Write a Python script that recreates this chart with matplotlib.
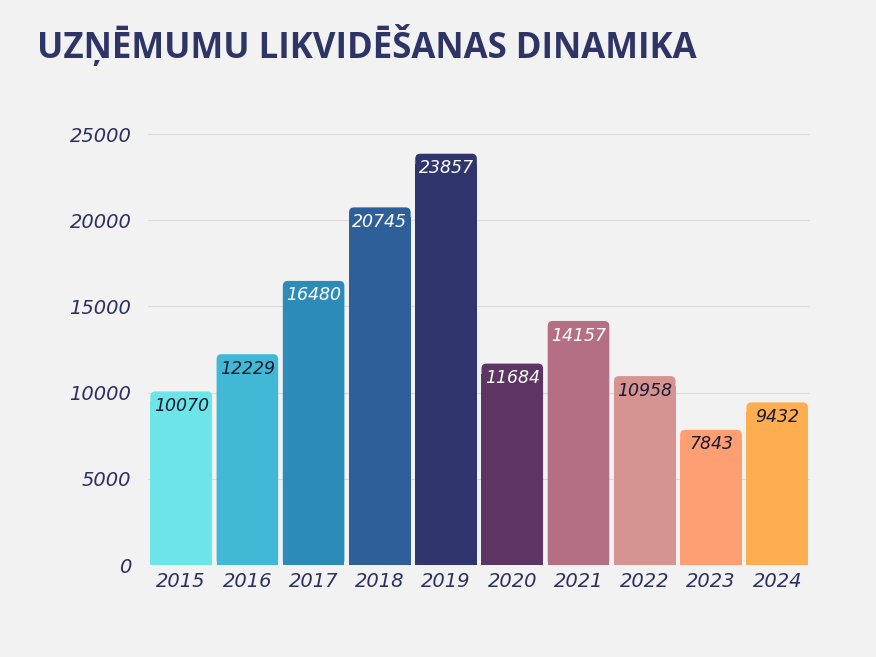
import matplotlib.pyplot as plt
from matplotlib.patches import FancyBboxPatch, Rectangle

years = ['2015', '2016', '2017', '2018', '2019', '2020', '2021', '2022', '2023', '2024']
values = [10070, 12229, 16480, 20745, 23857, 11684, 14157, 10958, 7843, 9432]
colors = ['#6ce5e8', '#41b8d5', '#2d8bba', '#2f5f98', '#31356e',
          '#5c3563', '#b56f84', '#d59391', '#fd9e73', '#feae51']
label_colors = ['#1a1a2e', '#1a1a2e', 'white', 'white', 'white',
                'white', 'white', '#1a1a2e', '#1a1a2e', '#1a1a2e']

bg = '#f2f2f2'
text_col = '#2e3160'

fig = plt.figure(figsize=(8.76, 6.57), dpi=100, facecolor=bg)
ax = fig.add_axes([0.169, 0.140, 0.756, 0.677], facecolor=bg)

ymax = 25800
x = range(len(years))
bars = ax.bar(x, values, width=0.93, color=colors, zorder=3)

# rounded top corners: swap each bar for a rounded box + square bottom
px_x = 10 / (0.756 * 876)          # x data units per pixel
px_y = ymax / (0.677 * 657)        # y data units per pixel
r = 5 * px_x
for b, c in zip(bars, colors):
    b.set_visible(False)
    x0, w, h = b.get_x(), b.get_width(), b.get_height()
    ax.add_patch(FancyBboxPatch((x0, 0), w, h, boxstyle=f'round,pad=0,rounding_size={r}',
                                mutation_aspect=px_y / px_x, fc=c, ec='none', zorder=3))
    ax.add_patch(Rectangle((x0, 0), w, h - 10 * px_y, fc=c, ec='none', zorder=3))

for b, v, c in zip(bars, values, label_colors):
    ax.annotate(str(v), (b.get_x() + b.get_width() / 2, v), xytext=(0, -4),
                textcoords='offset points', ha='center', va='top',
                fontsize=12.5, style='italic', color=c, family='DejaVu Sans', zorder=4)

ax.set_xlim(-0.5, len(years) - 0.5)
ax.set_ylim(0, ymax)
ax.set_yticks([0, 5000, 10000, 15000, 20000, 25000])
ax.set_xticks(list(x))
ax.set_xticklabels(years)
ax.grid(axis='y', color='#dcdcdc', linewidth=0.8, zorder=0)
for s in ax.spines.values():
    s.set_visible(False)
ax.tick_params(length=0, labelsize=14, labelcolor=text_col, pad=5)
ax.tick_params(axis='y', pad=12)
for lab in ax.get_xticklabels() + ax.get_yticklabels():
    lab.set_style('italic')
    lab.set_family('DejaVu Sans')

fig.text(0.042, 0.93, 'UZŅĒMUMU LIKVIDĒŠANAS DINAMIKA', fontsize=25,
         fontweight='bold', color='#2e3566', family='Open Sans', va='center')

fig.savefig('out.png', dpi=100, facecolor=bg)
